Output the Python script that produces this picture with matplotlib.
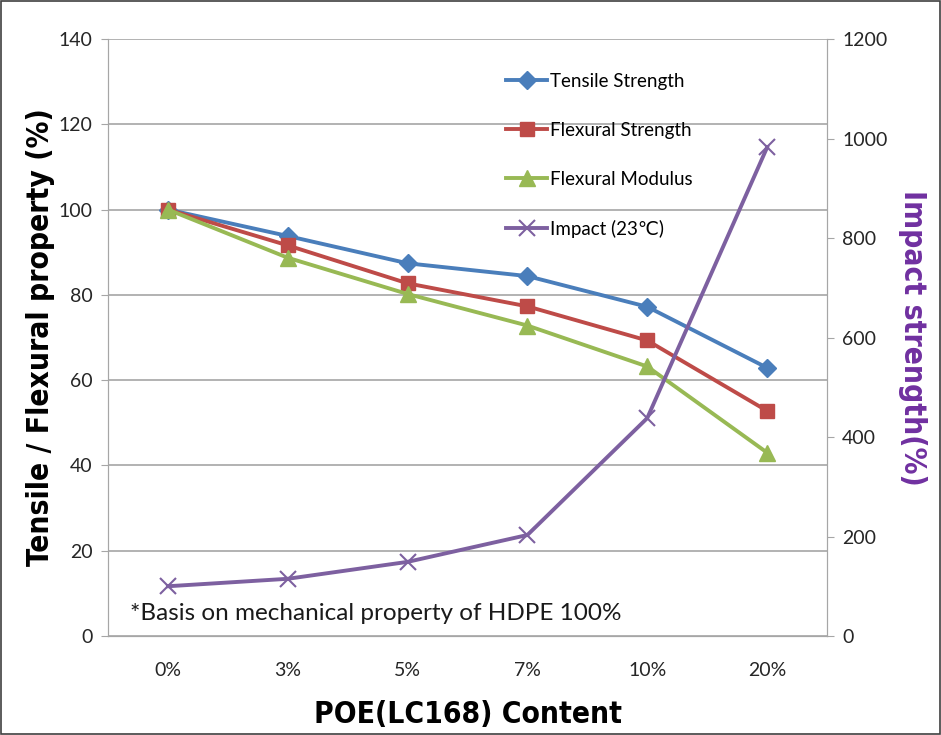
import matplotlib.pyplot as plt
from matplotlib.patches import Rectangle

# data
content = ['0%', '3%', '5%', '7%', '10%', '20%']
tensile = [100, 93.8, 87.4, 84.4, 77.2, 62.9]
flex_strength = [100, 91.6, 82.7, 77.3, 69.3, 52.8]
flex_modulus = [100, 88.7, 80.2, 72.8, 63.2, 43.0]
impact = [100, 115, 149, 203, 438, 982]

left_ticks = [0, 20, 40, 60, 80, 100, 120, 140]
right_ticks = [0, 200, 400, 600, 800, 1000, 1200]

blue = '#4A7EBB'
red = '#BE4B48'
green = '#98B954'
purple = '#7D60A0'
axis_gray = '#A6A6A6'

plt.rcParams['font.family'] = ['Lato', 'DejaVu Sans']

fig = plt.figure(figsize=(9.41, 7.35), dpi=100)
fig.set_facecolor('white')
ax = fig.add_axes([108 / 941, 99 / 735, 719 / 941, 597 / 735])
ax2 = ax.twinx()

x = list(range(len(content)))

ax.plot(x, tensile, color=blue, lw=2.8, marker='D', markersize=9, label='Tensile Strength')
ax.plot(x, flex_strength, color=red, lw=2.8, marker='s', markersize=10, label='Flexural Strength')
ax.plot(x, flex_modulus, color=green, lw=2.8, marker='^', markersize=11, label='Flexural Modulus')
ax2.plot(x, impact, color=purple, lw=2.8, marker='x', markersize=11, markeredgewidth=1.5,
         label='Impact (23\u2103)')

ax.set_xlim(-0.5, len(content) - 0.5)
ax.set_ylim(0, 140)
ax2.set_ylim(0, 1200)
ax.set_yticks(left_ticks)
ax2.set_yticks(right_ticks)
ax.set_xticks(x)
ax.set_xticklabels(content)

ax.grid(axis='y', color=axis_gray, lw=1.2)
ax.set_axisbelow(True)

for a in (ax, ax2):
    for s in a.spines.values():
        s.set_color(axis_gray)
    a.spines['top'].set_visible(False)

ax.tick_params(axis='x', length=0, pad=19, labelsize=14, colors='#262626')
ax.tick_params(axis='y', direction='out', length=5, color=axis_gray, labelsize=14,
               labelcolor='#262626', pad=6)
ax2.tick_params(axis='y', direction='out', length=5, color=axis_gray, labelsize=14,
                labelcolor='#262626', pad=6)

label_font = dict(family=['DejaVu Sans'], fontstretch='condensed', fontweight='bold')
ax.set_xlabel('POE(LC168) Content', fontsize=21.5, labelpad=15, **label_font)
ax.set_ylabel('Tensile / Flexural property (%)', fontsize=21.5, labelpad=3, **label_font)
ax2.set_ylabel('Impact strength(%)', fontsize=21.5, color='#7030A0', rotation=270,
               labelpad=28, **label_font)

ax.text(130 / 941, 1 - 613 / 735, '*Basis on mechanical property of HDPE 100%',
        transform=fig.transFigure, fontsize=17.5, va='center', color='#1a1a1a')

handles = ax.get_legend_handles_labels()[0] + ax2.get_legend_handles_labels()[0]
labels = [h.get_label() for h in handles]
fig.legend(handles, labels, loc='upper left', bbox_to_anchor=(489 / 941, 1 - 56 / 735),
           frameon=False, labelspacing=1.7, handlelength=2.2, handletextpad=0.15,
           prop={'family': ['Lato', 'DejaVu Sans'], 'size': 13.5})

fig.patches.append(Rectangle((0.001, 0.001), 0.998, 0.998, transform=fig.transFigure,
                             fill=False, edgecolor='#404040', lw=1.2))

fig.savefig('out.png', dpi=100)
